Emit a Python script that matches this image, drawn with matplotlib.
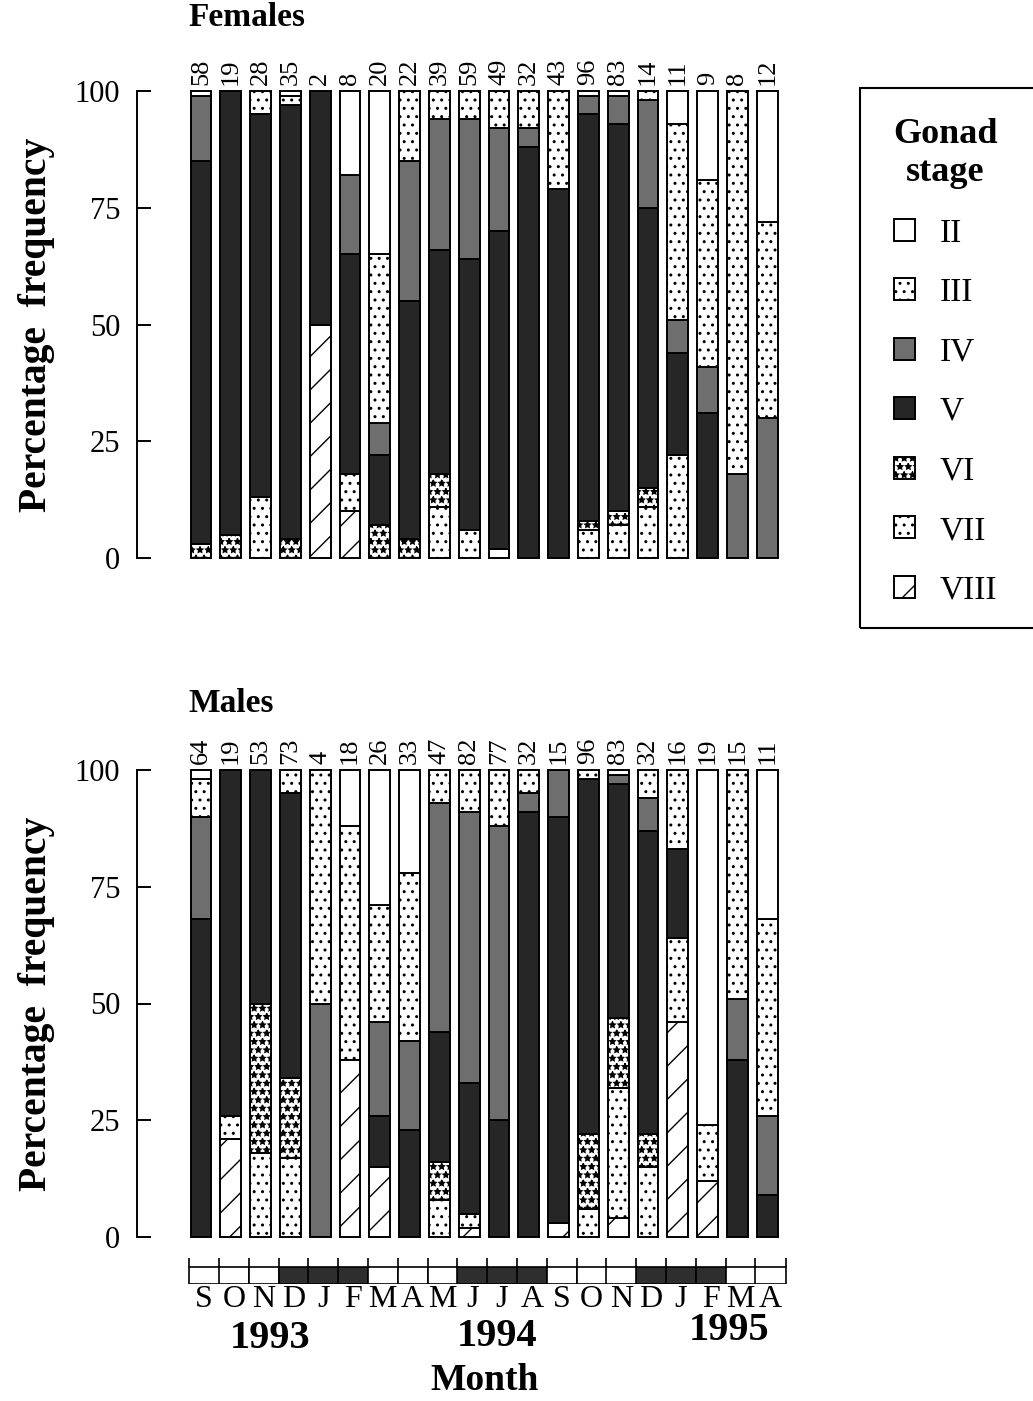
import numpy as np
import matplotlib.pyplot as plt
from matplotlib.patches import Patch, Rectangle

plt.rcParams['font.family'] = ['Liberation Serif', 'DejaVu Serif']
plt.rcParams['hatch.linewidth'] = 1.0
plt.rcParams['hatch.color'] = 'black'

stages = ['II', 'III', 'IV', 'V', 'VI', 'VII', 'VIII']
months = ['S', 'O', 'N', 'D', 'J', 'F', 'M', 'A', 'M', 'J',
          'J', 'A', 'S', 'O', 'N', 'D', 'J', 'F', 'M', 'A']
dark_month = [0, 0, 0, 1, 1, 1, 0, 0, 0, 1, 1, 1, 0, 0, 0, 1, 1, 1, 0, 0]
years = ['1993', '1994', '1995']

fem_n = [58, 19, 28, 35, 2, 8, 20, 22, 39, 59, 49, 32, 43, 96, 83, 14, 11, 9, 8, 12]
male_n = [64, 19, 53, 73, 4, 18, 26, 33, 47, 82, 77, 32, 15, 96, 83, 32, 16, 19, 15, 11]

# percentage of each gonad stage per sample (females)
fem_II   = [1, 0, 0, 1, 0, 18, 35, 0, 0, 0, 0, 0, 0, 1, 1, 0, 7, 19, 0, 28]
fem_III  = [0, 0, 5, 2, 0, 0, 36, 15, 6, 6, 8, 8, 21, 0, 0, 2, 42, 40, 82, 42]
fem_IV   = [14, 0, 0, 0, 0, 17, 7, 30, 28, 30, 22, 4, 0, 4, 6, 23, 7, 10, 18, 30]
fem_V    = [82, 95, 82, 93, 50, 47, 15, 51, 48, 58, 68, 88, 79, 87, 83, 60, 22, 31, 0, 0]
fem_VI   = [3, 5, 0, 4, 0, 0, 7, 4, 7, 0, 0, 0, 0, 2, 3, 4, 0, 0, 0, 0]
fem_VII  = [0, 0, 13, 0, 0, 8, 0, 0, 11, 6, 0, 0, 0, 6, 7, 11, 22, 0, 0, 0]
fem_VIII = [0, 0, 0, 0, 50, 10, 0, 0, 0, 0, 2, 0, 0, 0, 0, 0, 0, 0, 0, 0]

# males
male_II   = [2, 0, 0, 0, 0, 12, 29, 22, 0, 0, 0, 0, 0, 0, 1, 0, 0, 76, 0, 32]
male_III  = [8, 0, 0, 5, 50, 0, 25, 36, 7, 9, 12, 5, 0, 2, 0, 6, 17, 0, 49, 42]
male_IV   = [22, 0, 0, 0, 50, 0, 20, 19, 49, 58, 63, 4, 10, 0, 2, 7, 0, 0, 13, 17]
male_V    = [68, 74, 50, 61, 0, 0, 11, 23, 28, 28, 25, 91, 87, 76, 50, 65, 19, 0, 38, 9]
male_VI   = [0, 0, 32, 17, 0, 0, 0, 0, 8, 0, 0, 0, 0, 16, 15, 7, 0, 0, 0, 0]
male_VII  = [0, 5, 18, 17, 0, 50, 0, 0, 8, 3, 0, 0, 0, 6, 28, 15, 18, 12, 0, 0]
male_VIII = [0, 21, 0, 0, 0, 38, 15, 0, 0, 2, 0, 0, 3, 0, 4, 0, 46, 12, 0, 0]

females = [fem_II, fem_III, fem_IV, fem_V, fem_VI, fem_VII, fem_VIII]
males = [male_II, male_III, male_IV, male_V, male_VI, male_VII, male_VIII]

face = {'II': 'white', 'III': 'white', 'IV': '#6e6e6e', 'V': '#262626',
        'VI': 'white', 'VII': 'white', 'VIII': 'white'}
hatch = {'II': None, 'III': '..', 'IV': None, 'V': None,
         'VI': '**', 'VII': '..', 'VIII': '/'}

W, H = 1033, 1401
fig = plt.figure(figsize=(W / 100, H / 100), dpi=100)


def box(x0, y0, x1, y1):
    return [x0 / W, 1 - y1 / H, (x1 - x0) / W, (y1 - y0) / H]


def panel(ax, data, counts):
    x = np.arange(len(counts))
    bottom = np.zeros(len(counts))
    # stack from the last stage (VIII) at the bottom to II on top
    for name, vals in reversed(list(zip(stages, data))):
        vals = np.array(vals, dtype=float)
        keep = vals > 0
        ax.bar(x[keep], vals[keep], 0.7, bottom=bottom[keep],
               facecolor=face[name], hatch=hatch[name],
               edgecolor='black', linewidth=1.4, clip_on=False)
        bottom += vals
    for xi, n in zip(x, counts):
        ax.text(xi, 101.3, str(n), rotation=90, ha='center', va='bottom',
                fontsize=19, clip_on=False)
    ax.set_xlim(-2.15, 20.1)
    ax.set_ylim(0, 100)
    for s in ['top', 'right', 'bottom']:
        ax.spines[s].set_visible(False)
    ax.spines['left'].set_linewidth(1.4)
    ax.set_xticks([])
    ax.set_yticks([0, 25, 50, 75, 100])
    ax.tick_params(axis='y', direction='in', length=10, width=1.4,
                   labelsize=22, pad=12)
    ax.set_ylabel('Percentage  frequency', fontsize=28.5, fontweight='bold',
                  labelpad=14)


ax_f = fig.add_axes(box(137, 91, 800, 558))
panel(ax_f, females, fem_n)
ax_m = fig.add_axes(box(137, 770, 800, 1237))
panel(ax_m, males, male_n)

fig.text(188 / W, 1 - 18 / H, 'Females', fontsize=24, fontweight='bold',
         va='center', ha='left')
fig.text(188 / W, 1 - 703 / H, 'Males', fontsize=24, fontweight='bold',
         va='center', ha='left')

# month strip
ax_s = fig.add_axes(box(137, 1258, 800, 1284))
ax_s.set_xlim(-2.15, 20.1)
ax_s.set_ylim(0, 1.5)
ax_s.axis('off')
mx = np.arange(len(months))
ax_s.bar(mx - 0.4, 1, width=1.02, align='edge',
         color=['#2e2e2e' if d else 'white' for d in dark_month],
         edgecolor='black', linewidth=1.2)
ax_s.vlines(np.append(mx - 0.4, mx[-1] + 0.62), 1, 1.5, color='black', lw=1.2)
for xi, m in zip(mx, months):
    ax_s.text(xi + 0.1, -0.05, m, ha='center', va='top', fontsize=23,
              clip_on=False)

for yr, px, py in zip(years, [270, 497, 729], [1338, 1336, 1331]):
    fig.text(px / W, 1 - py / H, yr, fontsize=29, fontweight='bold',
             ha='center', va='center')
fig.text(485 / W, 1 - 1380 / H, 'Month', fontsize=27, fontweight='bold',
         ha='center', va='center')

# legend
handles = [Patch(facecolor=face[s], hatch=hatch[s], edgecolor='black',
                 linewidth=1.4) for s in stages]
leg = fig.legend(handles, stages, loc='upper left',
                 bbox_to_anchor=(863 / W, 1 - 88 / H), frameon=False,
                 title='Gonad\nstage', fontsize=24, alignment='center',
                 title_fontproperties={'weight': 'bold', 'size': 26},
                 handlelength=0.63, handleheight=0.63, labelspacing=0.87,
                 handletextpad=0.75)
leg.get_title().set_multialignment('center')
fig.patches.append(Rectangle((860 / W, 1 - 628 / H), 200 / W, 540 / H,
                             transform=fig.transFigure, fill=False,
                             lw=1.5, ec='black'))

fig.savefig('out.png', dpi=100)
